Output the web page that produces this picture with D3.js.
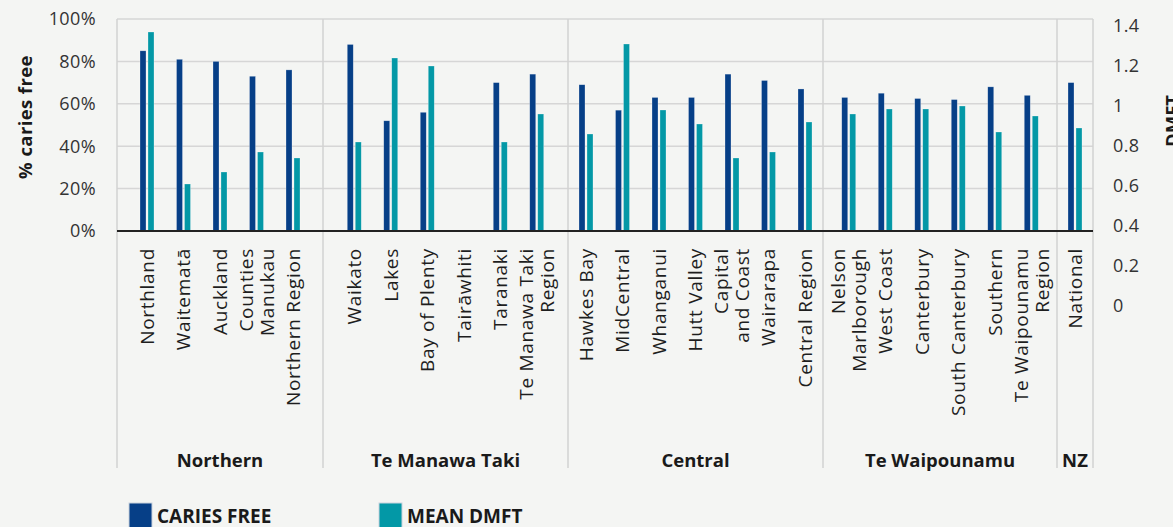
<!DOCTYPE html>
<html lang="en">
<head>
  <meta charset="UTF-8">
  <title>Caries free and mean DMFT by district</title>
  <style>
    body {
      margin: 0;
      background: #f4f5f3;
      overflow: hidden;
    }
    svg {
      font-family: "Open Sans", sans-serif;
      background: #f4f5f3;
    }
    .tick-label {
      fill: #333;
      font-size: 18px;
      letter-spacing: 0.4px;
    }
    .cat-label {
      fill: #1e1e1e;
      font-size: 19px;
      letter-spacing: 0.7px;
    }
    .group-label, .axis-title, .legend-label {
      fill: #1a1a1a;
      font-weight: 700;
    }
  </style>
</head>
<body>
  <svg width="1173" height="527"></svg>

  <script src="https://d3js.org/d3.v7.min.js"></script>
  <script>
    // data
    const groups = ["Northern", "Te Manawa Taki", "Central", "Te Waipounamu", "NZ"];
    const categories = [
      "Northland", "Waitematā", "Auckland", "Counties\nManukau", "Northern Region",
      "Waikato", "Lakes", "Bay of Plenty", "Tairāwhiti", "Taranaki", "Te Manawa Taki\nRegion",
      "Hawkes Bay", "MidCentral", "Whanganui", "Hutt Valley", "Capital\nand Coast", "Wairarapa", "Central Region",
      "Nelson\nMarlborough", "West Coast", "Canterbury", "South Canterbury", "Southern", "Te Waipounamu\nRegion",
      "National"
    ];
    const categoryGroup = [
      "Northern", "Northern", "Northern", "Northern", "Northern",
      "Te Manawa Taki", "Te Manawa Taki", "Te Manawa Taki", "Te Manawa Taki", "Te Manawa Taki", "Te Manawa Taki",
      "Central", "Central", "Central", "Central", "Central", "Central", "Central",
      "Te Waipounamu", "Te Waipounamu", "Te Waipounamu", "Te Waipounamu", "Te Waipounamu", "Te Waipounamu",
      "NZ"
    ];
    // % caries free (left axis)
    const cariesFree = [
      85, 81, 80, 73, 76,
      88, 52, 56, null, 70, 74,
      69, 57, 63, 63, 74, 71, 67,
      63, 65, 62.5, 62, 68, 64,
      70
    ];
    // mean DMFT (right axis)
    const meanDMFT = [
      1.37, 0.61, 0.67, 0.77, 0.74,
      0.82, 1.24, 1.20, null, 0.82, 0.96,
      0.86, 1.31, 0.98, 0.91, 0.74, 0.77, 0.92,
      0.96, 0.985, 0.985, 1.0, 0.87, 0.95,
      0.89
    ];
    const leftTicks = [0, 20, 40, 60, 80, 100];
    const rightTicks = [0, 0.2, 0.4, 0.6, 0.8, 1, 1.2, 1.4];

    // layout
    const svg = d3.select("svg");
    const plotLeft = 117, plotRight = 1093, plotTop = 19, baseY = 231, sepBottom = 468;
    const groupWidths = [206, 245, 255, 234, 36];
    const catStep = 36.5;
    const darkBlue = "#063f87";
    const teal = "#0398a6";

    const yLeft = d3.scaleLinear().domain([0, 100]).range([baseY, plotTop]);
    const yRight = d3.scaleLinear().domain([0, 1.4]).range([306, 26]);

    // group extents
    const groupEdges = [plotLeft];
    groupWidths.forEach(w => groupEdges.push(groupEdges[groupEdges.length - 1] + w));

    // x position per category: point scale centred in its group
    const xPos = {};
    groups.forEach((g, gi) => {
      const cats = categories.filter((c, i) => categoryGroup[i] === g);
      const mid = (groupEdges[gi] + groupEdges[gi + 1]) / 2;
      const half = (cats.length - 1) * catStep / 2;
      const sc = d3.scalePoint().domain(cats).range([mid - half, mid + half]);
      cats.forEach(c => xPos[c] = sc(c));
    });

    const rows = categories.map((c, i) => ({
      name: c, group: categoryGroup[i], cf: cariesFree[i], dmft: meanDMFT[i]
    }));

    // gridlines
    svg.append("g")
      .selectAll("line")
      .data(leftTicks.filter(t => t > 0))
      .join("line")
      .attr("x1", plotLeft).attr("x2", plotRight)
      .attr("y1", d => yLeft(d)).attr("y2", d => yLeft(d))
      .attr("stroke", "#d6d6d6").attr("stroke-width", 1.5);

    // group separators
    svg.append("g")
      .selectAll("line")
      .data(groupEdges)
      .join("line")
      .attr("x1", d => d).attr("x2", d => d)
      .attr("y1", plotTop).attr("y2", sepBottom)
      .attr("stroke", "#d2d2d2").attr("stroke-width", 1.5);

    // bars
    const bars = svg.append("g");
    bars.selectAll("rect.cf")
      .data(rows.filter(d => d.cf != null))
      .join("rect")
      .attr("class", "cf")
      .attr("x", d => xPos[d.name] - 7)
      .attr("width", 6)
      .attr("y", d => yLeft(d.cf))
      .attr("height", d => baseY - yLeft(d.cf))
      .attr("fill", darkBlue)
      .attr("stroke", "rgba(255,255,255,0.45)").attr("stroke-width", 0.6);

    bars.selectAll("rect.dm")
      .data(rows.filter(d => d.dmft != null))
      .join("rect")
      .attr("class", "dm")
      .attr("x", d => xPos[d.name] + 1)
      .attr("width", 6)
      .attr("y", d => yRight(d.dmft))
      .attr("height", d => baseY - yRight(d.dmft))
      .attr("fill", teal)
      .attr("stroke", "rgba(255,255,255,0.45)").attr("stroke-width", 0.6);

    // baseline
    svg.append("line")
      .attr("x1", plotLeft).attr("x2", plotRight)
      .attr("y1", baseY).attr("y2", baseY)
      .attr("stroke", "#222").attr("stroke-width", 2);

    // left axis labels
    svg.append("g")
      .selectAll("text")
      .data(leftTicks)
      .join("text")
      .attr("class", "tick-label")
      .attr("x", 96)
      .attr("y", d => yLeft(d))
      .attr("dy", "0.36em")
      .attr("text-anchor", "end")
      .text(d => d + "%");

    // right axis labels
    svg.append("g")
      .selectAll("text")
      .data(rightTicks)
      .join("text")
      .attr("class", "tick-label")
      .attr("x", 1113)
      .attr("y", d => yRight(d))
      .attr("dy", "0.36em")
      .text(d => String(+d.toFixed(1)));

    // axis titles
    svg.append("text")
      .attr("class", "axis-title")
      .attr("transform", "translate(32,117) rotate(-90)")
      .attr("text-anchor", "middle")
      .style("font-size", "18.5px")
      .style("letter-spacing", "0.4px")
      .text("% caries free");

    svg.append("text")
      .attr("class", "axis-title")
      .attr("transform", "translate(1179,121) rotate(-90)")
      .attr("text-anchor", "middle")
      .style("font-size", "18.5px")
      .text("DMFT");

    // category labels (rotated, multi-line)
    const cl = svg.append("g")
      .selectAll("g")
      .data(rows)
      .join("g")
      .attr("transform", d => `translate(${xPos[d.name]},248) rotate(-90)`);

    cl.append("text")
      .attr("class", "cat-label")
      .attr("text-anchor", "end")
      .each(function (d) {
        const lines = d.name.split("\n");
        const t = d3.select(this);
        lines.forEach((ln, i) => {
          t.append("tspan")
            .attr("x", 0)
            .attr("y", (i - (lines.length - 1) / 2) * 21)
            .attr("dy", "0.36em")
            .text(ln);
        });
      });

    // group labels
    svg.append("g")
      .selectAll("text")
      .data(groups)
      .join("text")
      .attr("class", "group-label")
      .attr("x", (d, i) => (groupEdges[i] + groupEdges[i + 1]) / 2)
      .attr("y", 467)
      .attr("text-anchor", "middle")
      .style("font-size", "18.5px")
      .text(d => d);

    // legend
    const legendItems = [
      { label: "CARIES FREE", color: darkBlue, x: 129 },
      { label: "MEAN DMFT", color: teal, x: 379 }
    ];
    const lg = svg.append("g")
      .selectAll("g")
      .data(legendItems)
      .join("g")
      .attr("transform", d => `translate(${d.x},503)`);
    lg.append("rect")
      .attr("width", 23).attr("height", 25)
      .attr("fill", d => d.color)
      .attr("stroke", "#c9d3de").attr("stroke-width", 1);
    lg.append("text")
      .attr("class", "legend-label")
      .attr("x", 28).attr("y", 20)
      .style("font-size", "19px")
      .text(d => d.label);
  </script>
</body>
</html>
